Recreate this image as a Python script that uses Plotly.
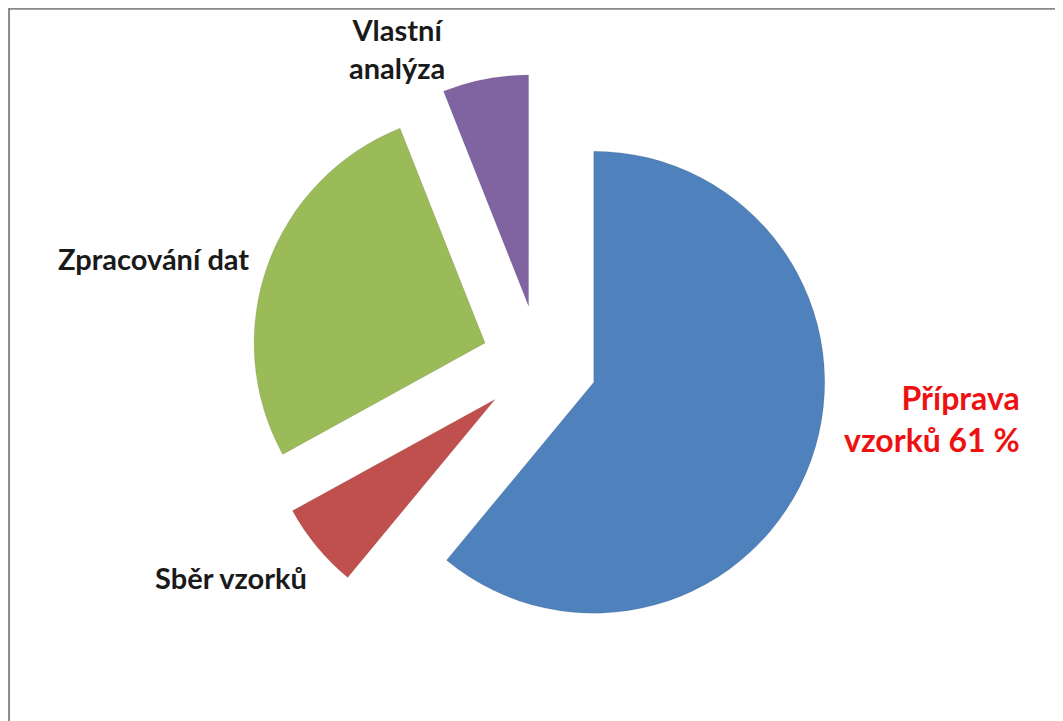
import plotly.graph_objs as go

# data
labels = ["Příprava vzorků", "Sběr vzorků", "Zpracování dat", "Vlastní analýza"]
values = [61, 6, 27, 6]
colors = ["#4F81BD", "#C0504D", "#9BBB59", "#8064A2"]

# the page body adds an 8px margin, so the figure is kept 16px smaller
W, H = 1055, 713
OFF = 8


def px(x, y):
    # screenshot pixel -> paper coords
    return (x - OFF) / W, 1 - (y - OFF) / H


pie = go.Pie(
    labels=labels,
    values=values,
    sort=False,
    direction="clockwise",
    rotation=0,
    pull=[0.25, 0.25, 0.25, 0.25],
    textinfo="none",
    hoverinfo="label+percent",
    showlegend=False,
    marker=dict(colors=colors, line=dict(color="rgba(0,0,0,0.15)", width=0.6)),
    domain=dict(x=[0.2300, 0.7774], y=[0.0976, 0.9075]),
)

lbl_font = dict(family="Lato", size=29, color="#1a1a1a")

annotations = []
for (x, y), txt in [((397, 48), "<b>Vlastní<br>analýza</b>"),
                    ((153, 258), "<b>Zpracování dat</b>"),
                    ((231, 577), "<b>Sběr vzorků</b>")]:
    ax, ay = px(x, y)
    annotations.append(dict(x=ax, y=ay, xref="paper", yref="paper", showarrow=False,
                            text=txt, align="center", font=lbl_font,
                            xanchor="center", yanchor="middle"))

ax, ay = px(1022, 418)
annotations.append(dict(
    x=ax, y=ay, xref="paper", yref="paper", showarrow=False,
    text="<b>Příprava<br>vzorků 61 %</b>", align="right",
    xanchor="right", yanchor="middle",
    font=dict(family="Lato", size=32, color="#EE1111"),
))

# thin grey frame on the top and left, as in the source image
shapes = [
    dict(type="line", xref="paper", yref="paper", x0=0, x1=1, y0=0.999, y1=0.999,
         line=dict(color="#8a8a8a", width=2)),
    dict(type="line", xref="paper", yref="paper", x0=0.001, x1=0.001, y0=0, y1=1,
         line=dict(color="#8a8a8a", width=2)),
]

layout = go.Layout(
    width=W,
    height=H,
    margin=dict(l=0, r=0, t=0, b=0),
    paper_bgcolor="#FFF",
    plot_bgcolor="#FFF",
    annotations=annotations,
    shapes=shapes,
)

fig = go.Figure(data=[pie], layout=layout)
fig.write_html("out.html")
